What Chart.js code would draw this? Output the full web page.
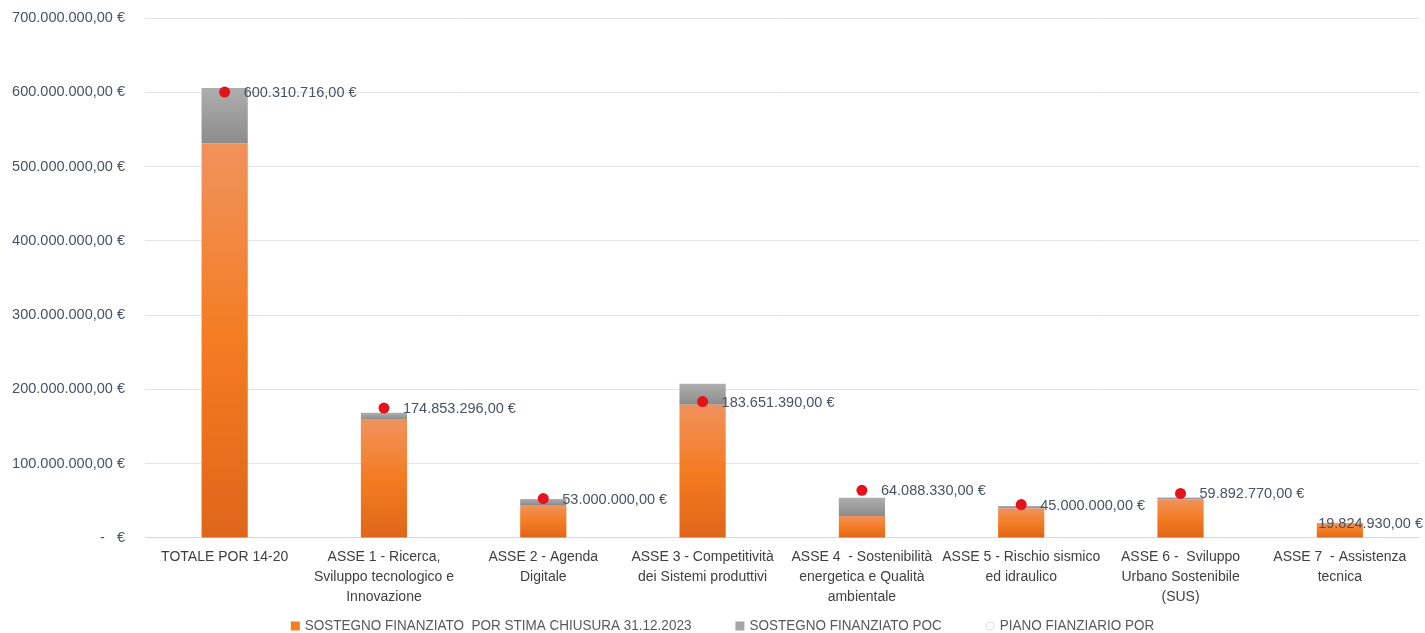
<!DOCTYPE html>
<html lang="it">
<head>
    <meta charset="UTF-8">
    <title>POR 14-20</title>
    <script src="https://cdn.jsdelivr.net/npm/chart.js"></script>
    <style>
        html, body { margin: 0; padding: 0; background: #fff; }
        #wrap { width: 1425px; height: 633px; }
    </style>
</head>
<body>
    <div id="wrap"><canvas id="grafico"></canvas></div>

    <script>
        // Categorie (assi del programma)
        const categorie = [
            ["TOTALE POR 14-20"],
            ["ASSE 1 - Ricerca,", "Sviluppo tecnologico e", "Innovazione"],
            ["ASSE 2 - Agenda", "Digitale"],
            ["ASSE 3 - Competitività", "dei Sistemi produttivi"],
            ["ASSE 4  - Sostenibilità", "energetica e Qualità", "ambientale"],
            ["ASSE 5 - Rischio sismico", "ed idraulico"],
            ["ASSE 6 -  Sviluppo", "Urbano Sostenibile", "(SUS)"],
            ["ASSE 7  - Assistenza", "tecnica"]
        ];

        // Valori (stime)
        const sostegnoPor = [531000000, 159000000, 44500000, 179400000, 29700000, 39500000, 52200000, 19800000];
        const sostegnoPoc = [74600000, 9500000, 8000000, 28300000, 24300000, 3500000, 2200000, 500000];
        const pianoPor = [600310716, 174853296, 53000000, 183651390, 64088330, 45000000, 59892770, 19824930];

        const yTicks = [0, 100000000, 200000000, 300000000, 400000000, 500000000, 600000000, 700000000];

        // Formato italiano 1.234.567,00 €
        const formatEuro = (v) => {
            const parts = Math.round(v).toString().replace(/\B(?=(\d{3})+(?!\d))/g, '.');
            return parts + ',00 €';
        };

        const gradiente = (ctx, chart, top, bottom, stops) => {
            if (!chart.chartArea || !isFinite(top) || !isFinite(bottom) || top === bottom) return stops[1][1];
            const g = ctx.createLinearGradient(0, top, 0, bottom);
            stops.forEach(s => g.addColorStop(s[0], s[1]));
            return g;
        };

        const stopsArancio = [[0, '#f0925c'], [0.5, '#f47c22'], [1, '#df6619']];
        const stopsGrigio = [[0, '#aeaeae'], [1, '#8c8c8c']];

        const fontBase = '"Liberation Sans", Arial, sans-serif';

        // Etichette dei punti (piano finanziario)
        const etichettePunti = {
            id: 'etichettePunti',
            afterDatasetsDraw(chart) {
                const meta = chart.getDatasetMeta(2);
                const ctx = chart.ctx;
                ctx.save();
                ctx.font = '14.5px ' + fontBase;
                ctx.fillStyle = '#4a5260';
                ctx.textBaseline = 'middle';
                ctx.textAlign = 'left';
                meta.data.forEach((p, i) => {
                    const testo = formatEuro(pianoPor[i]);
                    const w = ctx.measureText(testo).width;
                    let x = p.x + 19;
                    if (x + w > chart.width - 2) x = chart.width - w - 2;
                    ctx.fillText(testo, x, p.y + 1);
                });
                ctx.restore();
            }
        };

        // Legenda disegnata a mano in basso (testo un po' stretto)
        const legenda = {
            id: 'legenda',
            afterDraw(chart) {
                const ctx = chart.ctx;
                const voci = chart.data.datasets.map(d => d.label);
                const stretto = 0.9;
                ctx.save();
                ctx.font = '15px ' + fontBase;
                ctx.textBaseline = 'middle';
                const gap = 44, box = 9, dopoBox = 5;
                const larghezze = voci.map(t => box + dopoBox + ctx.measureText(t).width * stretto);
                const totale = larghezze.reduce((a, b) => a + b, 0) + gap * (voci.length - 1);
                let x = (chart.width - totale) / 2 + 10;
                const y = 626;
                voci.forEach((t, i) => {
                    if (i === 2) {
                        ctx.beginPath();
                        ctx.arc(x + box / 2, y, 4, 0, Math.PI * 2);
                        ctx.strokeStyle = '#dcdcdc';
                        ctx.lineWidth = 1;
                        ctx.stroke();
                    } else {
                        ctx.fillStyle = chart.data.datasets[i].legendColor;
                        ctx.fillRect(x, y - box / 2, box, box);
                    }
                    ctx.save();
                    ctx.translate(x + box + dopoBox, y);
                    ctx.scale(stretto, 1);
                    ctx.fillStyle = '#595959';
                    ctx.fillText(t, 0, 0);
                    ctx.restore();
                    x += larghezze[i] + gap;
                });
                ctx.restore();
            }
        };

        const ctx = document.getElementById('grafico').getContext('2d');
        const chart = new Chart(ctx, {
            data: {
                labels: categorie,
                datasets: [
                    {
                        type: 'bar',
                        label: 'SOSTEGNO FINANZIATO  POR STIMA CHIUSURA 31.12.2023',
                        data: sostegnoPor,
                        stack: 's',
                        order: 2,
                        barPercentage: 0.58,
                        categoryPercentage: 0.5,
                        backgroundColor: (c) => {
                            const y = c.chart.scales.y;
                            if (!y || c.raw == null) return '#f47c22';
                            return gradiente(c.chart.ctx, c.chart, y.getPixelForValue(c.raw), y.getPixelForValue(0), stopsArancio);
                        },
                        legendColor: '#f47c22'
                    },
                    {
                        type: 'bar',
                        label: 'SOSTEGNO FINANZIATO POC',
                        data: sostegnoPoc,
                        stack: 's',
                        order: 2,
                        barPercentage: 0.58,
                        categoryPercentage: 0.5,
                        backgroundColor: (c) => {
                            const y = c.chart.scales.y;
                            if (!y || c.raw == null) return '#9e9e9e';
                            const base = sostegnoPor[c.dataIndex];
                            return gradiente(c.chart.ctx, c.chart, y.getPixelForValue(base + c.raw), y.getPixelForValue(base), stopsGrigio);
                        },
                        legendColor: '#a5a5a5'
                    },
                    {
                        type: 'line',
                        label: 'PIANO FIANZIARIO POR',
                        data: pianoPor,
                        order: 0,
                        showLine: false,
                        pointRadius: [5.5, 5.5, 5.5, 5.5, 5.5, 5.5, 5.5, 0],
                        pointHoverRadius: 5.5,
                        pointBackgroundColor: '#e3121b',
                        pointBorderColor: '#e3121b',
                        pointBorderWidth: 0
                    }
                ]
            },
            options: {
                responsive: true,
                maintainAspectRatio: false,
                animation: false,
                layout: { padding: { left: 9, right: 5, top: 18, bottom: 25 } },
                plugins: {
                    title: { display: false },
                    tooltip: { enabled: false },
                    legend: { display: false }
                },
                scales: {
                    x: {
                        stacked: true,
                        grid: { display: false },
                        border: { display: true, color: '#d9d9d9' },
                        ticks: {
                            color: '#404040',
                            font: { size: 14, family: fontBase, lineHeight: 1.43 },
                            maxRotation: 0,
                            autoSkip: false,
                            padding: 1
                        }
                    },
                    y: {
                        stacked: true,
                        min: 0,
                        max: 700000000,
                        afterBuildTicks: (axis) => { axis.ticks = yTicks.map(v => ({ value: v })); },
                        afterFit: (axis) => {
                            axis.width = 136;
                            axis.paddingTop = 0;
                            axis.paddingBottom = 0;
                        },
                        grid: { color: '#e3e3e3', drawTicks: false },
                        border: { display: false },
                        ticks: {
                            color: '#4a5260',
                            font: { size: 14.5, family: fontBase },
                            padding: 20,
                            callback: (v) => v === 0 ? '-   €' : formatEuro(v)
                        }
                    }
                }
            },
            plugins: [etichettePunti, legenda]
        });
    </script>
</body>
</html>
